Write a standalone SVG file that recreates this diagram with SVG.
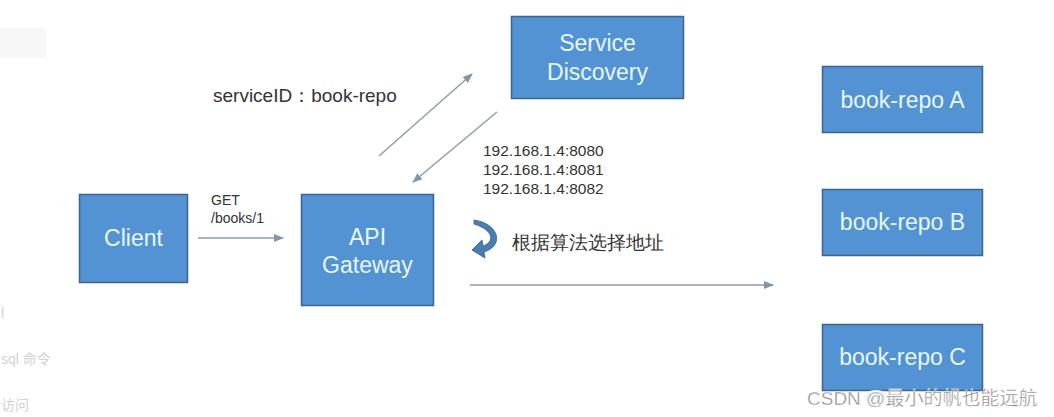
<svg xmlns="http://www.w3.org/2000/svg" width="1054" height="417" viewBox="0 0 1054 417">
<style>
.box{fill:#5393d3;stroke:#3d648c;stroke-width:1.5}
.bt{font-family:"Liberation Sans",Arial,sans-serif;font-size:23px;fill:#e6f7fb;text-anchor:middle}
.lbl{font-family:"Liberation Sans",Arial,sans-serif;fill:#333}
.conn{stroke:#8c9ea8;stroke-width:1.5;fill:none}
.side{font-family:"Liberation Sans","Noto Sans CJK SC",sans-serif;font-size:14px;fill:#d2d2d2}
</style>
<defs>
<marker id="ah" viewBox="0 0 10 10" refX="9" refY="5" markerWidth="10" markerHeight="10" markerUnits="userSpaceOnUse" orient="auto">
<path d="M0,1 L10,5 L0,9 Z" fill="#7f97a6"/>
</marker>
</defs>
<rect x="0" y="0" width="1054" height="417" fill="#ffffff"/>
<rect x="0" y="28" width="46" height="30" fill="#f7f7f7"/>
<g id="side-text">
<text class="side" x="1" y="318">l</text>
<text class="side" x="1" y="364">sql 命令</text>
<text class="side" x="1" y="410">访问</text>
</g>

<g id="connectors">
<line class="conn" x1="198" y1="238" x2="283" y2="238" marker-end="url(#ah)"/>
<line class="conn" x1="379" y1="156" x2="472" y2="74" marker-end="url(#ah)"/>
<line class="conn" x1="497" y1="112" x2="413" y2="182" marker-end="url(#ah)"/>
<line class="conn" x1="470" y1="285" x2="773" y2="285" marker-end="url(#ah)"/>
</g>

<g id="client">
<rect class="box" x="79.5" y="194.5" width="108" height="88"/>
<text class="bt" x="133.5" y="246">Client</text>
</g>
<g id="api-gateway">
<rect class="box" x="301.5" y="194.5" width="132" height="111"/>
<text class="bt" x="367.5" y="245">API</text>
<text class="bt" x="367.5" y="273">Gateway</text>
</g>
<g id="service-discovery">
<rect class="box" x="511.5" y="16.5" width="172" height="82"/>
<text class="bt" x="597.5" y="51">Service</text>
<text class="bt" x="597.5" y="80">Discovery</text>
</g>
<g id="book-repo-a">
<rect class="box" x="822.5" y="66.5" width="160" height="66"/>
<text class="bt" x="902.5" y="108">book-repo A</text>
</g>
<g id="book-repo-b">
<rect class="box" x="822.5" y="189.5" width="160" height="66"/>
<text class="bt" x="902.5" y="230">book-repo B</text>
</g>
<g id="book-repo-c">
<rect class="box" x="822.5" y="324.5" width="160" height="66"/>
<text class="bt" x="902.5" y="365">book-repo C</text>
</g>

<g id="labels">
<text class="lbl" x="213" y="102" font-size="19" font-family="'Liberation Sans','Noto Sans CJK SC',sans-serif">serviceID：book-repo</text>
<text class="lbl" x="211" y="205" font-size="14">GET</text>
<text class="lbl" x="211" y="223" font-size="14">/books/1</text>
<text class="lbl" x="483" y="156" font-size="15.5">192.168.1.4:8080</text>
<text class="lbl" x="483" y="175" font-size="15.5">192.168.1.4:8081</text>
<text class="lbl" x="483" y="194" font-size="15.5">192.168.1.4:8082</text>
<text class="lbl" x="512" y="249" font-size="19" fill="#444" font-family="'Noto Sans CJK SC',sans-serif">根据算法选择地址</text>
</g>

<g id="curved-arrow">
<path d="M474,220 C500,224 504,246 484,252 L485,258 L472,250 L482,240 L483,246 C495,242 494,230 474,224 Z" fill="#4a7eb0" stroke="#2f5f8f" stroke-width="0.8"/>
</g>

<g id="watermark">
<ellipse cx="876" cy="396" rx="12" ry="6" fill="#f4f8fc"/>
<text x="807" y="405" font-size="19" font-family="'Liberation Sans','Noto Sans CJK SC',sans-serif" fill="#8a8a8a" stroke="#ffffff" stroke-width="0.4">CSDN @最小的帆也能远航</text>
</g>
</svg>
